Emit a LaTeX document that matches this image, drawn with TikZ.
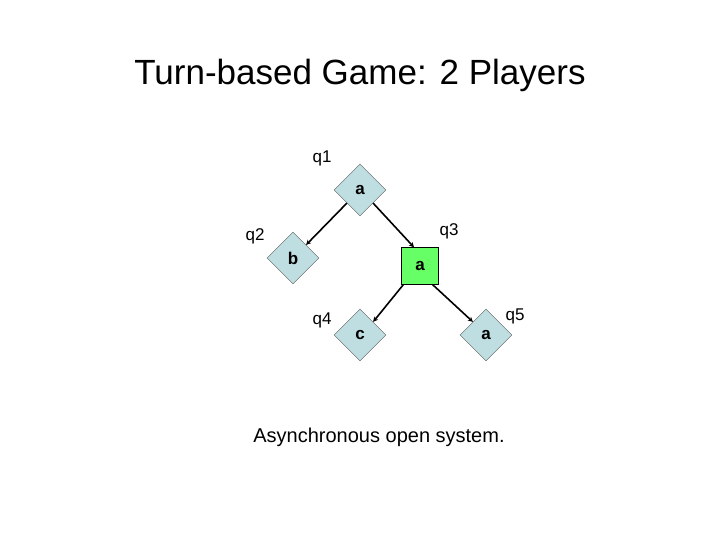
\documentclass[tikz,border=0pt]{standalone}
\usepackage{fontspec}
\setmainfont{Liberation Sans}
\usetikzlibrary{shapes.geometric,arrows.meta}
\definecolor{stateblue}{RGB}{190,222,226}
\definecolor{stategreen}{RGB}{102,255,102}
\tikzset{
  state/.style={diamond,draw=gray!70!black,fill=stateblue,minimum size=52pt,
    inner sep=0pt,font=\fontsize{17}{17}\selectfont\bfseries},
  turn/.style={rectangle,draw=black,fill=stategreen,minimum size=37pt,
    inner sep=0pt,font=\fontsize{17}{17}\selectfont\bfseries},
  lbl/.style={font=\fontsize{17}{17}\selectfont},
  move/.style={draw,line width=1.6pt,-{Stealth[length=5pt,width=5pt]}}
}
\begin{document}
\begin{tikzpicture}[x=1pt,y=-1pt]
\useasboundingbox (0,0) rectangle (720,540);
\node (title) at (360,75) {\fontsize{35}{35}\selectfont Turn-based Game: 2 Players};
% the states
\node[state] (q1) at (360,190) {a};
\node[state] (q2) at (293,258) {b};
\node[turn]  (q3) at (420,266) {a};
\node[state] (q4) at (360,335) {c};
\node[state] (q5) at (486,335) {a};
% the labels
\node[lbl] (l1) at (322,158) {q1};
\node[lbl] (l2) at (255,236) {q2};
\node[lbl] (l3) at (449,231) {q3};
\node[lbl] (l4) at (322,320) {q4};
\node[lbl] (l5) at (515,316) {q5};
% the moves
\draw[move] (q1.225) -- (q2.45);
\draw[move] (q1.-45) -- ([xshift=-6pt]q3.north);
\draw[move] ([xshift=2pt]q3.south west) -- (q4.45);
\draw[move] ([xshift=-6pt]q3.south east) -- (q5.135);
\node (caption) at (379,437) {\fontsize{20}{20}\selectfont Asynchronous open system.};
\end{tikzpicture}
\end{document}
